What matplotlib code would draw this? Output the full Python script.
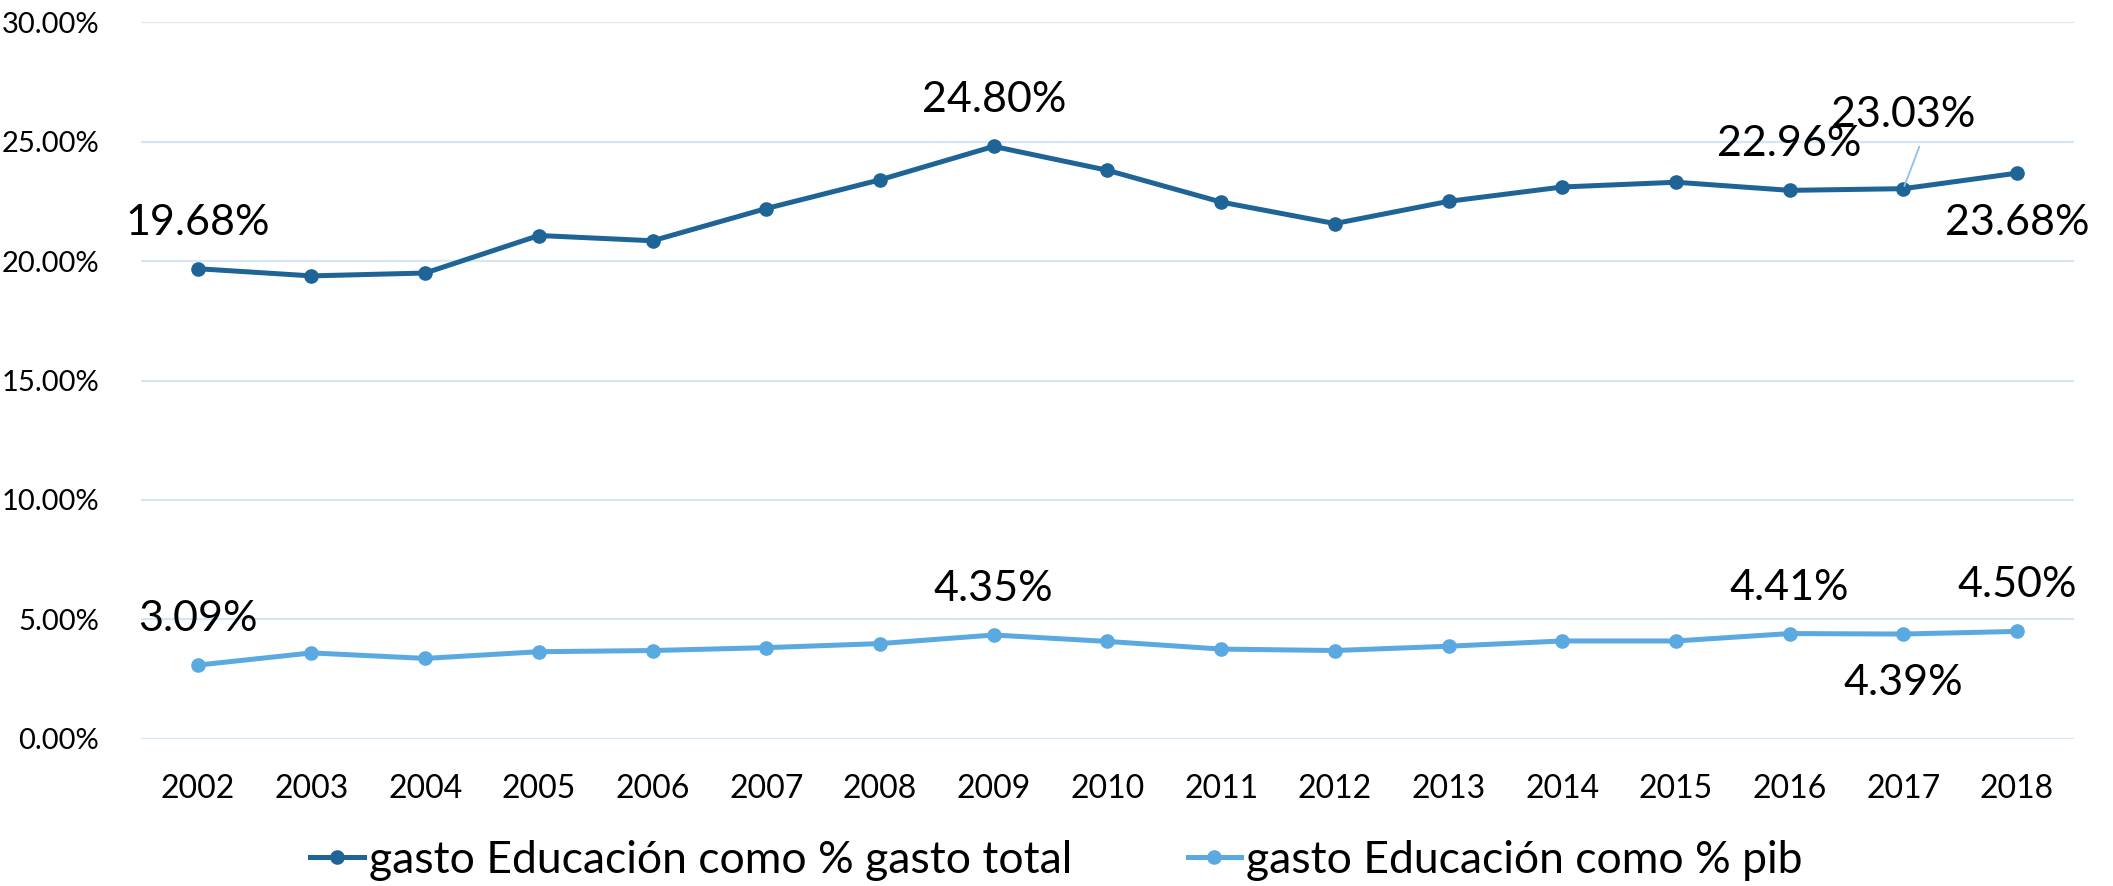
import matplotlib
matplotlib.use("Agg")
import matplotlib.pyplot as plt
from matplotlib.ticker import PercentFormatter

plt.rcParams['font.family'] = ['Lato', 'DejaVu Sans']

years = ["2002", "2003", "2004", "2005", "2006", "2007", "2008", "2009", "2010",
         "2011", "2012", "2013", "2014", "2015", "2016", "2017", "2018"]
gasto_total = [19.68, 19.38, 19.50, 21.07, 20.85, 22.20, 23.40, 24.80, 23.80,
               22.47, 21.57, 22.50, 23.10, 23.30, 22.96, 23.03, 23.68]
gasto_pib = [3.09, 3.60, 3.37, 3.65, 3.70, 3.82, 3.99, 4.35, 4.08,
             3.76, 3.70, 3.88, 4.10, 4.10, 4.41, 4.39, 4.50]
series_names = ["gasto Educación como % gasto total", "gasto Educación como % pib"]
yticks = [0, 5, 10, 15, 20, 25, 30]

# labelled points: year index -> vertical offset in px
labels_total = {0: 46, 7: 46, 14: 46, 15: 74, 16: -50}
labels_pib = {0: 46, 7: 46, 14: 46, 15: -49, 16: 46}

c_dark = "#1f6496"
c_light = "#5aa9e0"
c_grid = "#d6e6f5"

fig = plt.figure(figsize=(21.13, 8.86), dpi=100)
ax = fig.add_axes([0.0667, 0.166, 0.9148, 0.809])

x = list(range(len(years)))
ax.plot(x, gasto_total, color=c_dark, lw=3.6, marker='o', ms=9.5, label=series_names[0], zorder=3)
ax.plot(x, gasto_pib, color=c_light, lw=3.6, marker='o', ms=9.5, label=series_names[1], zorder=3)

px = 72 / 100.0
for series, labs in ((gasto_total, labels_total), (gasto_pib, labels_pib)):
    for i, off in labs.items():
        ax.annotate(f"{series[i]:.2f}%", (x[i], series[i]), xytext=(0, off * px),
                    textcoords='offset points', ha='center', va='center',
                    fontsize=31, color='black', zorder=4)

# leader line for 23.03%
ax.annotate("", xy=(x[15], gasto_total[15]), xytext=(16 * px, 42 * px),
            textcoords='offset points',
            arrowprops=dict(arrowstyle='-', color='#8cc0ea', lw=1.3,
                            shrinkA=0, shrinkB=2))

ax.set_xlim(-0.5, len(years) - 0.5)
ax.set_ylim(0, 30)
ax.set_yticks(yticks)
ax.yaxis.set_major_formatter(PercentFormatter(decimals=2))
ax.set_xticks(x)
ax.set_xticklabels(years)
ax.tick_params(axis='y', length=0, labelsize=21, pad=30)
ax.tick_params(axis='x', length=0, labelsize=23, pad=25)
ax.grid(axis='y', color=c_grid, lw=1.6)
ax.set_axisbelow(True)
for s in ax.spines.values():
    s.set_visible(False)

fig.legend(loc='center', bbox_to_anchor=(0.5, 0.029), ncol=2, frameon=False,
           fontsize=32, handlelength=1.2, handletextpad=0.12, columnspacing=2.6)

fig.savefig("out.png", dpi=100)
